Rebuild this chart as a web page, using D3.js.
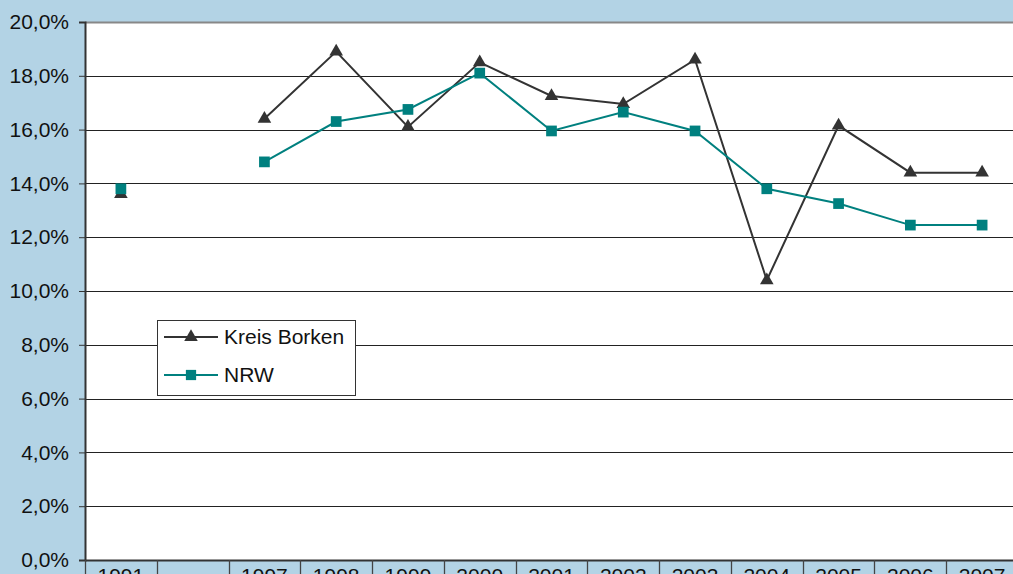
<!DOCTYPE html>
<html>
<head>
<meta charset="utf-8">
<script src="https://cdn.jsdelivr.net/npm/d3@7"></script>
<style>
  body { margin: 0; background: #b3d3e5; }
  svg { display: block; font-family: "Liberation Sans", Arial, sans-serif; }
</style>
</head>
<body>
<svg width="1013" height="574"></svg>
<script>
// Jahre (leere Kategorie zwischen 1991 und 1997)
const years = ["1991", "", "1997", "1998", "1999", "2000", "2001", "2002", "2003", "2004", "2005", "2006", "2007"];
const borken = [13.6, null, 16.4, 18.9, 16.1, 18.5, 17.25, 16.95, 18.6, 10.4, 16.15, 14.4, 14.4];
const nrw = [13.8, null, 14.8, 16.3, 16.75, 18.1, 15.95, 16.65, 15.95, 13.8, 13.25, 12.45, 12.45];
const yTicks = [0, 2, 4, 6, 8, 10, 12, 14, 16, 18, 20];

const svg = d3.select("svg");
const area = { left: 85, right: 1018, top: 22, bottom: 560 };

const scX = d3.scaleBand()
    .domain(d3.range(years.length))
    .range([area.left, area.right]);
const scY = d3.scaleLinear()
    .domain([0, 20])
    .range([area.bottom, area.top]);

// Zeichenfläche
svg.append("rect")
    .attr("x", area.left)
    .attr("y", area.top)
    .attr("width", area.right - area.left)
    .attr("height", area.bottom - area.top)
    .style("fill", "#fff");

// Gitterlinien
svg.selectAll(".grid")
    .data(yTicks.slice(1, -1))
    .enter()
    .append("line")
    .attr("x1", area.left)
    .attr("x2", area.right)
    .attr("y1", d => Math.round(scY(d)) + 0.5)
    .attr("y2", d => Math.round(scY(d)) + 0.5)
    .style("stroke", "#222")
    .style("stroke-width", 1);

// oberer Rand
svg.append("line")
    .attr("x1", area.left).attr("x2", area.right)
    .attr("y1", area.top + 0.5).attr("y2", area.top + 0.5)
    .style("stroke", "#888").style("stroke-width", 2);

// Y-Achse
const axisY = d3.axisLeft(scY)
    .tickValues(yTicks)
    .tickSize(6)
    .tickFormat(d => d.toFixed(1).replace(".", ",") + "%");
const gY = svg.append("g")
    .attr("transform", `translate(${area.left}, 0)`)
    .call(axisY);
gY.select(".domain").style("stroke", "#333").style("stroke-width", 2);
gY.selectAll(".tick line").style("stroke", "#333");
gY.selectAll(".tick text")
    .attr("x", -16)
    .style("font-size", "21px")
    .style("fill", "#111");

// X-Achse: Kästchen mit Trennlinien
svg.append("line")
    .attr("x1", area.left).attr("x2", area.right)
    .attr("y1", area.bottom + 0.5).attr("y2", area.bottom + 0.5)
    .style("stroke", "#333").style("stroke-width", 2);
svg.selectAll(".sep")
    .data(d3.range(years.length + 1))
    .enter()
    .append("line")
    .attr("x1", d => Math.round(area.left + d * scX.step()) + 0.5)
    .attr("x2", d => Math.round(area.left + d * scX.step()) + 0.5)
    .attr("y1", area.bottom)
    .attr("y2", 574)
    .style("stroke", "#444")
    .style("stroke-width", 1.3);
svg.selectAll(".xlab")
    .data(years)
    .enter()
    .append("text")
    .attr("x", (d, i) => scX(i) + scX.bandwidth() / 2)
    .attr("y", 583)
    .attr("text-anchor", "middle")
    .style("font-size", "21px")
    .style("fill", "#111")
    .text(d => d);

function drawSeries(values, color, marker) {
    const pts = values.map((v, i) => ({ i: i, v: v }));
    const line = d3.line()
        .defined(d => d.v !== null)
        .x(d => scX(d.i) + scX.bandwidth() / 2)
        .y(d => scY(d.v));
    svg.append("path")
        .datum(pts)
        .attr("d", line)
        .style("fill", "none")
        .style("stroke", color)
        .style("stroke-width", 2);
    svg.selectAll(".m-" + marker)
        .data(pts.filter(d => d.v !== null))
        .enter()
        .append("path")
        .attr("d", d3.symbol().type(marker == "tri" ? d3.symbolTriangle : d3.symbolSquare)
            .size(marker == "tri" ? 80 : 115))
        .attr("transform", d => `translate(${scX(d.i) + scX.bandwidth() / 2}, ${scY(d.v)})`)
        .style("fill", color);
}

drawSeries(borken, "#333333", "tri");
drawSeries(nrw, "#00807f", "sq");

// Legende
const leg = svg.append("g").attr("transform", "translate(157, 320)");
leg.append("rect")
    .attr("x", 0.5).attr("y", 0.5)
    .attr("width", 198).attr("height", 75)
    .style("fill", "#fff")
    .style("stroke", "#333")
    .style("stroke-width", 1);
const legItems = [
    { name: "Kreis Borken", color: "#333333", sym: d3.symbolTriangle, size: 80, y: 17 },
    { name: "NRW", color: "#00807f", sym: d3.symbolSquare, size: 105, y: 55 }
];
legItems.forEach(d => {
    leg.append("line")
        .attr("x1", 7).attr("x2", 61)
        .attr("y1", d.y).attr("y2", d.y)
        .style("stroke", d.color).style("stroke-width", 2);
    leg.append("path")
        .attr("d", d3.symbol().type(d.sym).size(d.size))
        .attr("transform", `translate(34, ${d.y})`)
        .style("fill", d.color);
    leg.append("text")
        .attr("x", 67).attr("y", d.y + 7)
        .style("font-size", "21px")
        .style("fill", "#111")
        .text(d.name);
});
</script>
</body>
</html>
